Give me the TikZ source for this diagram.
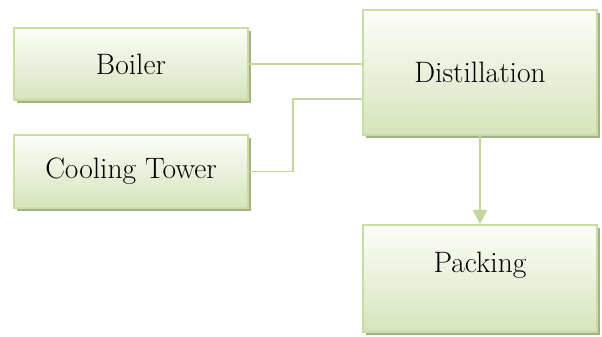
\documentclass[tikz,border=0pt]{standalone}
\usepackage{fontspec}
\usetikzlibrary{arrows.meta,shadows}
\definecolor{boxline}{RGB}{200,221,160}
\definecolor{boxlow}{RGB}{214,228,188}
\definecolor{boxhigh}{RGB}{252,253,250}
\definecolor{shadowgreen}{RGB}{164,178,138}
\definecolor{flowline}{RGB}{195,215,155}
\begin{document}
\begin{tikzpicture}[
  every node/.style={font=\fontsize{21}{25}\selectfont},
  stage/.style={rectangle,draw=boxline,line width=1.2pt,top color=boxhigh,bottom color=boxlow,
    minimum width=5.85cm,
    drop shadow={shadow xshift=0.07cm,shadow yshift=-0.07cm,fill=shadowgreen,opacity=1}},
  feed/.style={draw=flowline,line width=1.4pt}
]
\useasboundingbox (0,0) rectangle (15.05,8.4);
\node[stage,minimum height=1.8cm] (boiler) at (3.275,6.8) {Boiler};
\node[stage,minimum height=1.825cm] (tower) at (3.275,4.1125) {Cooling Tower};
\node[stage,minimum height=3.125cm] (distil) at (12.0,6.5875) {Distillation};
\node[stage,minimum height=2.675cm,text depth=0.8cm] (pack) at (12.0,1.4375) {Packing};
\coordinate (bend) at (7.325,5.925);
\draw[feed] (boiler.east) -- (boiler.east -| distil.west);
\draw[feed] (tower.east) -| (bend) -- (bend -| distil.west);
\draw[feed,-{Triangle[width=0.36cm,length=0.36cm]},flowline] (distil.south) -- (pack.north);
\end{tikzpicture}
\end{document}
